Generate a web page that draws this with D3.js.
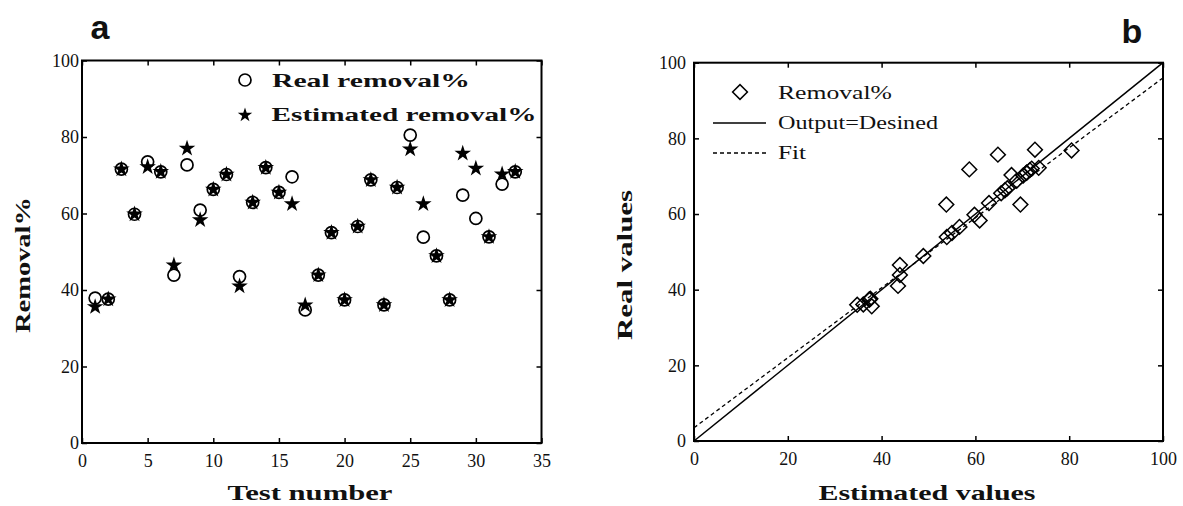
<!DOCTYPE html>
<html lang="en">
<head>
    <meta charset="UTF-8">
    <title>removal - real vs estimated</title>
    <style>
        body { margin: 0; background: #fff; }
        text { fill: #111; }
    </style>
</head>
<body>
    <script src="https://d3js.org/d3.v7.min.js"></script>
    <script>
        // data
        const testNumbers = [1, 2, 3, 4, 5, 6, 7, 8, 9, 10, 11, 12, 13, 14, 15, 16, 17,
            18, 19, 20, 21, 22, 23, 24, 25, 26, 27, 28, 29, 30, 31, 32, 33];
        const realRemoval = [37.9, 37.6, 71.6, 59.8, 73.5, 70.9, 43.9, 72.7, 60.9, 66.3, 70.2,
            43.5, 62.9, 72.0, 65.5, 69.6, 34.8, 43.9, 55.0, 37.4, 56.6, 68.8, 36.1, 66.8, 80.5,
            53.8, 48.9, 37.4, 64.8, 58.7, 53.9, 67.7, 70.9];
        const estimatedRemoval = [35.6, 37.6, 71.6, 59.8, 72.2, 70.9, 46.5, 77.0, 58.3, 66.3, 70.2,
            41.0, 62.9, 72.0, 65.5, 62.5, 36.0, 43.9, 55.0, 37.4, 56.6, 68.8, 36.1, 66.8, 76.8,
            62.5, 48.9, 37.4, 75.7, 71.8, 53.9, 70.3, 70.9];
        const ticksA_x = [0, 5, 10, 15, 20, 25, 30, 35];
        const ticksA_y = [0, 20, 40, 60, 80, 100];
        const ticksB = [0, 20, 40, 60, 80, 100];
        const idealLine = [[0, 0], [100, 100]];
        const fitLine = [[0, 3.5], [100, 96]];

        const width = 1183, height = 506;
        const svg = d3.select('body').append('svg')
            .attr('width', width).attr('height', height);

        const serif = '"Liberation Serif", "DejaVu Serif", serif';

        // scales
        const xA = d3.scaleLinear().domain([0, 35]).range([82, 541.5]);
        const yA = d3.scaleLinear().domain([0, 100]).range([443, 60.5]);
        const xB = d3.scaleLinear().domain([0, 100]).range([694, 1163]);
        const yB = d3.scaleLinear().domain([0, 100]).range([441, 62.7]);

        function frame(x, y, xt, yt, xPad, yPad) {
            const g = svg.append('g');
            const [x0, x1] = x.range(), [y0, y1] = y.range();
            g.append('g').attr('transform', `translate(0,${y0})`)
                .call(d3.axisBottom(x).tickValues(xt).tickSizeInner(-5).tickSizeOuter(0).tickPadding(xPad));
            g.append('g').attr('transform', `translate(0,${y1})`)
                .call(d3.axisTop(x).tickValues(xt).tickSizeInner(-5).tickSizeOuter(0).tickFormat(''));
            g.append('g').attr('transform', `translate(${x0},0)`)
                .call(d3.axisLeft(y).tickValues(yt).tickSizeInner(-5).tickSizeOuter(0).tickPadding(yPad));
            g.append('g').attr('transform', `translate(${x1},0)`)
                .call(d3.axisRight(y).tickValues(yt).tickSizeInner(-5).tickSizeOuter(0).tickFormat(''));
            g.selectAll('.domain').remove();
            g.selectAll('.tick line').attr('stroke', '#000').attr('stroke-width', 1.5);
            g.selectAll('.tick text')
                .style('font-family', serif).style('font-size', '18px')
                .attr('fill', '#222');
            g.append('rect')
                .attr('x', x0).attr('y', y1)
                .attr('width', x1 - x0).attr('height', y0 - y1)
                .attr('fill', 'none').attr('stroke', '#000').attr('stroke-width', 2);
            return g;
        }

        function label(txt, x, y, size, weight, len, rotate) {
            const t = svg.append('text')
                .attr('x', x).attr('y', y)
                .attr('text-anchor', 'middle')
                .style('font-family', serif)
                .style('font-size', size + 'px')
                .style('font-weight', weight)
                .text(txt);
            if (len) t.attr('textLength', len).attr('lengthAdjust', 'spacingAndGlyphs');
            if (rotate) t.attr('transform', `rotate(-90,${x},${y})`);
            return t;
        }

        // ---------- panel a ----------
        frame(xA, yA, ticksA_x, ticksA_y, 11, 3);

        const star = d3.symbol().type(d3.symbolStar).size(85);
        const legendStar = d3.symbol().type(d3.symbolStar).size(65);

        svg.append('g').selectAll('circle')
            .data(testNumbers)
            .enter().append('circle')
            .attr('cx', function(d) { return xA(d); })
            .attr('cy', function(d, i) { return yA(realRemoval[i]); })
            .attr('r', 6)
            .attr('fill', 'none')
            .attr('stroke', '#000')
            .attr('stroke-width', 1.7);

        svg.append('g').selectAll('path')
            .data(testNumbers)
            .enter().append('path')
            .attr('d', star)
            .attr('transform', function(d, i) {
                return `translate(${xA(d)},${yA(estimatedRemoval[i])})`;
            })
            .attr('fill', '#000');

        // legend a
        svg.append('circle').attr('cx', 245).attr('cy', 80).attr('r', 6)
            .attr('fill', 'none').attr('stroke', '#000').attr('stroke-width', 1.7);
        svg.append('path').attr('d', legendStar).attr('transform', 'translate(245,115)').attr('fill', '#000');
        label('Real removal%', 272 + 99, 87, 19, 'bold', 198).attr('fill', '#1a1208');
        label('Estimated removal%', 272 + 132, 121, 19, 'bold', 265).attr('fill', '#1a1208');

        label('Removal%', 30, 265, 21, 'bold', 136, true);
        label('Test number', 310, 500, 21, 'bold', 165);

        svg.append('text').attr('x', 100).attr('y', 39).attr('text-anchor', 'middle')
            .style('font-family', '"Liberation Sans", Arial, sans-serif')
            .style('font-size', '34px').style('font-weight', 'bold').text('a');

        // ---------- panel b ----------
        frame(xB, yB, ticksB, ticksB, 11, 8);

        const line = d3.line()
            .x(function(d) { return xB(d[0]); })
            .y(function(d) { return yB(d[1]); });

        svg.append('path').attr('d', line(idealLine))
            .attr('fill', 'none').attr('stroke', '#000').attr('stroke-width', 1.5);
        svg.append('path').attr('d', line(fitLine))
            .attr('fill', 'none').attr('stroke', '#000').attr('stroke-width', 1.3)
            .attr('stroke-dasharray', '4,3');

        const diamond = d3.symbol().type(d3.symbolSquare).size(110);

        svg.append('g').selectAll('path')
            .data(testNumbers)
            .enter().append('path')
            .attr('d', diamond)
            .attr('transform', function(d, i) {
                return `translate(${xB(realRemoval[i])},${yB(estimatedRemoval[i])}) rotate(45)`;
            })
            .attr('fill', 'none')
            .attr('stroke', '#000')
            .attr('stroke-width', 1.5);

        // legend b
        svg.append('path').attr('d', diamond).attr('transform', 'translate(740,92) rotate(45)')
            .attr('fill', 'none').attr('stroke', '#000').attr('stroke-width', 1.5);
        svg.append('line').attr('x1', 713).attr('x2', 766).attr('y1', 123).attr('y2', 123)
            .attr('stroke', '#000').attr('stroke-width', 1.5);
        svg.append('line').attr('x1', 713).attr('x2', 766).attr('y1', 153).attr('y2', 153)
            .attr('stroke', '#000').attr('stroke-width', 1.3).attr('stroke-dasharray', '4,3');
        label('Removal%', 778 + 57, 99, 18, 'normal', 114);
        label('Output=Desined', 778 + 80, 129, 18, 'normal', 160);
        label('Fit', 778 + 14, 159, 18, 'normal', 28);

        label('Real values', 632, 265, 21, 'bold', 150, true);
        label('Estimated values', 927, 500, 21, 'bold', 217);

        svg.append('text').attr('x', 1132).attr('y', 43).attr('text-anchor', 'middle')
            .style('font-family', '"Liberation Sans", Arial, sans-serif')
            .style('font-size', '34px').style('font-weight', 'bold').text('b');
    </script>
</body>
</html>
